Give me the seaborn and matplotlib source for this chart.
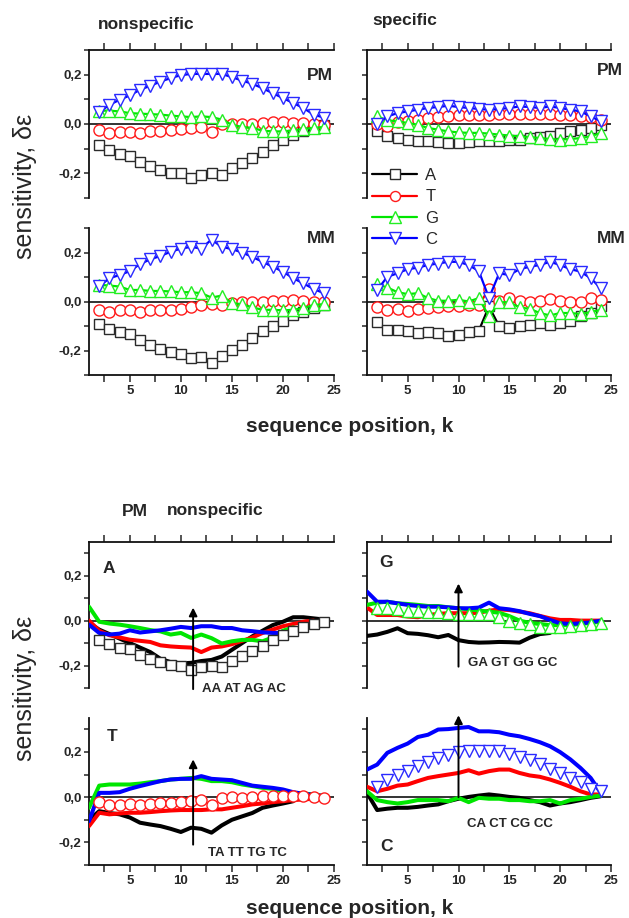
import matplotlib
matplotlib.use("Agg")
import matplotlib.pyplot as plt
import seaborn as sns
from matplotlib.lines import Line2D

sns.set_style("ticks")
plt.rcParams['font.family'] = ['Liberation Sans', 'DejaVu Sans']

# ---------------- data ----------------
bases = ['A', 'T', 'G', 'C']
k_top = list(range(2, 25))

# nonspecific, PM
ns_pm_A = [-0.086, -0.106, -0.122, -0.128, -0.155, -0.172, -0.186, -0.197, -0.200, -0.218, -0.205, -0.200,
           -0.205, -0.180, -0.158, -0.137, -0.115, -0.085, -0.065, -0.045, -0.030, -0.015, -0.005]
ns_pm_T = [-0.023, -0.036, -0.034, -0.032, -0.036, -0.030, -0.027, -0.026, -0.020, -0.016, -0.012, -0.034,
           -0.002, 0.001, -0.002, 0.002, 0.006, 0.007, 0.007, 0.006, 0.004, 0.001, -0.004]
ns_pm_G = [0.054, 0.054, 0.051, 0.044, 0.042, 0.040, 0.038, 0.034, 0.031, 0.028, 0.031, 0.028,
           0.018, -0.003, -0.012, -0.016, -0.027, -0.030, -0.030, -0.026, -0.020, -0.016, -0.012]
ns_pm_C = [0.047, 0.078, 0.098, 0.116, 0.139, 0.155, 0.172, 0.186, 0.198, 0.203, 0.203, 0.203,
           0.203, 0.190, 0.176, 0.163, 0.145, 0.125, 0.105, 0.085, 0.065, 0.038, 0.026]
# nonspecific, MM
ns_mm_A = [-0.092, -0.111, -0.126, -0.132, -0.158, -0.176, -0.192, -0.205, -0.216, -0.232, -0.227, -0.253,
           -0.223, -0.196, -0.176, -0.151, -0.122, -0.099, -0.078, -0.057, -0.041, -0.027, -0.014]
ns_mm_T = [-0.034, -0.043, -0.034, -0.036, -0.041, -0.034, -0.034, -0.034, -0.031, -0.024, -0.016, -0.011,
           -0.014, -0.007, 0.000, -0.003, 0.000, 0.003, 0.003, 0.007, 0.003, 0.000, -0.003]
ns_mm_G = [0.068, 0.065, 0.061, 0.047, 0.047, 0.043, 0.043, 0.041, 0.038, 0.038, 0.034, 0.016,
           0.024, -0.007, -0.011, -0.024, -0.034, -0.034, -0.036, -0.034, -0.027, -0.014, -0.011]
ns_mm_C = [0.062, 0.095, 0.108, 0.124, 0.153, 0.172, 0.186, 0.203, 0.216, 0.223, 0.216, 0.253,
           0.223, 0.214, 0.200, 0.182, 0.162, 0.142, 0.122, 0.095, 0.074, 0.051, 0.034]
# specific, PM
sp_pm_A = [-0.030, -0.050, -0.057, -0.063, -0.070, -0.070, -0.073, -0.077, -0.077, -0.074, -0.070, -0.070,
           -0.070, -0.066, -0.063, -0.057, -0.053, -0.047, -0.036, -0.030, -0.023, -0.016, -0.003]
sp_pm_T = [0.002, -0.010, 0.007, 0.011, 0.018, 0.024, 0.028, 0.034, 0.038, 0.038, 0.038, 0.038,
           0.040, 0.040, 0.040, 0.040, 0.040, 0.040, 0.038, 0.038, 0.034, 0.028, 0.018]
sp_pm_G = [0.031, 0.015, 0.011, 0.004, -0.003, -0.016, -0.023, -0.030, -0.034, -0.036, -0.036, -0.039,
           -0.043, -0.047, -0.050, -0.053, -0.057, -0.061, -0.063, -0.061, -0.057, -0.050, -0.036]
sp_pm_C = [0.000, 0.031, 0.044, 0.051, 0.058, 0.065, 0.069, 0.074, 0.069, 0.065, 0.061, 0.058,
           0.061, 0.065, 0.071, 0.069, 0.065, 0.071, 0.065, 0.058, 0.051, 0.031, 0.011]
# specific, MM
sp_mm_A = [-0.084, -0.115, -0.115, -0.122, -0.128, -0.126, -0.128, -0.142, -0.138, -0.124, -0.119, -0.020,
           -0.101, -0.108, -0.101, -0.095, -0.088, -0.097, -0.088, -0.078, -0.061, -0.047, -0.020]
sp_mm_T = [-0.024, -0.034, -0.030, -0.038, -0.030, -0.027, -0.024, -0.020, -0.020, -0.016, -0.014, 0.051,
           0.003, 0.016, 0.003, -0.003, 0.003, 0.011, 0.003, 0.000, 0.000, 0.014, 0.007]
sp_mm_G = [0.070, 0.057, 0.038, 0.030, 0.034, 0.014, 0.003, 0.003, 0.007, 0.000, 0.014, -0.061,
           -0.003, -0.003, -0.024, -0.030, -0.047, -0.057, -0.047, -0.047, -0.051, -0.043, -0.034]
sp_mm_C = [0.047, 0.101, 0.115, 0.132, 0.138, 0.149, 0.155, 0.162, 0.162, 0.149, 0.124, 0.014,
           0.115, 0.108, 0.132, 0.142, 0.149, 0.162, 0.149, 0.132, 0.122, 0.095, 0.054]

# nearest-neighbour contributions (PM nonspecific), k starts at 1
AA = [-0.010, -0.040, -0.060, -0.080, -0.100, -0.120, -0.140, -0.170, -0.185, -0.190, -0.188, -0.180,
      -0.175, -0.160, -0.130, -0.100, -0.070, -0.045, -0.020, -0.005, 0.015, 0.015, 0.010, 0.005]
AT = [0.000, -0.045, -0.065, -0.075, -0.085, -0.090, -0.095, -0.110, -0.115, -0.118, -0.120, -0.140,
      -0.120, -0.115, -0.105, -0.090, -0.075, -0.055, -0.040, -0.025, -0.015, -0.005, 0.000]
AG = [0.062, -0.005, -0.013, -0.018, -0.025, -0.033, -0.042, -0.048, -0.062, -0.055, -0.077, -0.062,
      -0.078, -0.102, -0.092, -0.086, -0.086, -0.092, -0.075, -0.045, -0.030]
AC = [-0.018, -0.055, -0.062, -0.058, -0.043, -0.053, -0.048, -0.043, -0.036, -0.028, -0.033, -0.025,
      -0.025, -0.033, -0.033, -0.043, -0.047, -0.052, -0.055, -0.055, -0.055]

GA = [-0.068, -0.062, -0.050, -0.034, -0.056, -0.059, -0.065, -0.074, -0.064, -0.087, -0.095, -0.098,
      -0.097, -0.095, -0.096, -0.098, -0.076, -0.060, -0.055]
GT = [0.059, 0.025, 0.025, 0.025, 0.018, 0.015, 0.025, 0.030, 0.033, 0.033, 0.033, 0.035,
      0.044, 0.050, 0.047, 0.040, 0.033, 0.021, 0.010, 0.003, 0.003, 0.000, 0.000, 0.000]
GG = [0.070, 0.080, 0.084, 0.077, 0.074, 0.070, 0.065, 0.065, 0.059, 0.055, 0.050, 0.045,
      0.040, 0.035, 0.020, 0.000, -0.010, -0.015, -0.020, -0.020, -0.020, -0.015, -0.010, -0.005]
GC = [0.129, 0.084, 0.084, 0.077, 0.070, 0.065, 0.062, 0.062, 0.059, 0.055, 0.055, 0.058,
      0.080, 0.055, 0.050, 0.042, 0.030, 0.020, 0.003, -0.012, -0.015, -0.012, -0.008, 0.000]

TA = [-0.100, -0.062, -0.070, -0.076, -0.090, -0.113, -0.121, -0.128, -0.140, -0.154, -0.135, -0.140,
      -0.157, -0.125, -0.100, -0.085, -0.070, -0.047, -0.037, -0.028, -0.018]
TT = [-0.128, -0.069, -0.076, -0.072, -0.069, -0.069, -0.066, -0.062, -0.059, -0.057, -0.057, -0.057,
      -0.054, -0.054, -0.047, -0.040, -0.032, -0.028, -0.022, -0.018, -0.013, -0.010, -0.007, -0.003]
TG = [-0.047, 0.051, 0.056, 0.056, 0.056, 0.060, 0.066, 0.071, 0.078, 0.081, 0.085, 0.081,
      0.071, 0.071, 0.066, 0.056, 0.049, 0.041, 0.037, 0.026, 0.019, 0.016, 0.012, 0.005]
TC = [-0.106, 0.019, 0.019, 0.022, 0.037, 0.049, 0.060, 0.071, 0.078, 0.081, 0.081, 0.093,
      0.081, 0.078, 0.075, 0.063, 0.051, 0.046, 0.041, 0.034, 0.022, 0.015, 0.010, 0.005]

CA = [0.019, -0.057, -0.051, -0.047, -0.047, -0.043, -0.037, -0.032, -0.018, -0.007, 0.001, 0.007,
      0.012, 0.007, 0.001, -0.003, -0.013, -0.022, -0.037, -0.028, -0.022, -0.013, -0.003, 0.004]
CT = [0.046, 0.026, 0.037, 0.051, 0.056, 0.071, 0.085, 0.093, 0.100, 0.107, 0.119, 0.104,
      0.115, 0.122, 0.122, 0.107, 0.096, 0.090, 0.078, 0.063, 0.046, 0.026, 0.012, 0.012]
CG = [0.026, -0.013, -0.022, -0.028, -0.022, -0.013, -0.013, -0.013, -0.018, -0.003, -0.022, -0.003,
      -0.007, -0.007, -0.013, -0.013, -0.018, -0.018, -0.013, -0.028, -0.013, -0.007, 0.001, 0.007]
CC = [0.122, 0.144, 0.196, 0.218, 0.237, 0.266, 0.276, 0.299, 0.301, 0.306, 0.310, 0.291,
      0.291, 0.287, 0.276, 0.269, 0.257, 0.243, 0.225, 0.199, 0.167, 0.129, 0.085, 0.019]

xtick_major = [5, 10, 15, 20, 25]
xtick_minor = [2.5, 7.5, 12.5, 17.5, 22.5]
xtick_labels = ['5', '10', '15', '20', '25']
ytick_major = [-0.2, 0.0, 0.2]
ytick_minor = [-0.3, -0.1, 0.1, 0.3]
ytick_labels = ['-0,2', '0,0', '0,2']

# ---------------- style ----------------
COL = {'A': '#000000', 'T': '#ff0000', 'G': '#00e600', 'C': '#0000ff'}
MEC = {'A': '#2a2a2a', 'T': '#ff1a1a', 'G': '#22ee22', 'C': '#2a2aff'}
MRK = {'A': 's', 'T': 'o', 'G': '^', 'C': 'v'}
MSZ = {'A': 7.6, 'T': 8.0, 'G': 9.2, 'C': 9.2}

W, H = 629, 918
fig = plt.figure(figsize=(W / 100, H / 100), dpi=100)


def px_axes(x0, y0, x1, y1):
    return fig.add_axes([x0 / W, 1 - y1 / H, (x1 - x0) / W, (y1 - y0) / H])


def style(ax, ylim, upper, ylabels):
    ax.set_xlim(1, 25)
    ax.set_ylim(*ylim)
    ax.set_xticks(xtick_major)
    ax.set_xticks(xtick_minor, minor=True)
    ax.set_yticks(ytick_major)
    ax.set_yticks(ytick_minor, minor=True)
    ax.spines['right'].set_visible(False)
    for s in ax.spines.values():
        s.set_linewidth(1.3)
        s.set_color('#111111')
    if upper:
        ax.spines['bottom'].set_visible(False)
        ax.tick_params(axis='x', which='both', bottom=False, top=True,
                       labelbottom=False, labeltop=False, direction='out', length=5, width=1.1)
    else:
        ax.spines['top'].set_visible(False)
        ax.tick_params(axis='x', which='both', bottom=True, top=False, labelbottom=True,
                       direction='out', length=5, width=1.1, pad=2.5, labelsize=9.5)
        ax.set_xticklabels(xtick_labels, fontweight='bold')
    ax.tick_params(axis='y', which='both', left=True, right=False, direction='out',
                   length=3.8, width=1.1, pad=1.5, labelsize=9.5)
    if ylabels:
        ax.set_yticklabels(ytick_labels, fontweight='bold')
    else:
        ax.set_yticklabels([])
    ax.axhline(0, color='#111111', lw=1.2, zorder=1)
    ax.set_xlabel('')
    ax.set_ylabel('')


def marker_series(ax, b, vals, with_line=True, lw=1.5):
    sns.lineplot(x=k_top, y=vals, ax=ax, color=COL[b], lw=lw if with_line else 0,
                 marker=MRK[b], markersize=MSZ[b], markerfacecolor='white',
                 markeredgecolor=MEC[b], markeredgewidth=1.0, estimator=None, sort=False,
                 zorder=4)


def nn_line(ax, b, vals):
    sns.lineplot(x=list(range(1, len(vals) + 1)), y=vals, ax=ax, color=COL[b], lw=2.9,
                 estimator=None, sort=False, zorder=3)


TOPLIM = (-0.3, 0.3)
BOTLIM = (-0.3, 0.35)

# ---------------- top block ----------------
ax_tl_pm = px_axes(89, 50, 334, 198)
ax_tl_mm = px_axes(89, 228, 334, 375)
ax_tr_pm = px_axes(367, 50, 611, 198)
ax_tr_mm = px_axes(367, 228, 611, 375)

top_sets = [
    (ax_tl_pm, [ns_pm_A, ns_pm_T, ns_pm_G, ns_pm_C], True, True),
    (ax_tl_mm, [ns_mm_A, ns_mm_T, ns_mm_G, ns_mm_C], False, True),
    (ax_tr_pm, [sp_pm_A, sp_pm_T, sp_pm_G, sp_pm_C], True, False),
    (ax_tr_mm, [sp_mm_A, sp_mm_T, sp_mm_G, sp_mm_C], False, False),
]
for ax, series, upper, ylab in top_sets:
    for b, vals in zip(bases, series):
        marker_series(ax, b, vals, with_line=True, lw=1.6)
    style(ax, TOPLIM, upper, ylab)

ax_tl_pm.text(22.3, 0.198, 'PM', fontsize=12.5, fontweight='bold', va='center', ha='left')
ax_tr_pm.text(23.6, 0.218, 'PM', fontsize=12.5, fontweight='bold', va='center', ha='left', clip_on=False)
ax_tl_mm.text(22.3, 0.259, 'MM', fontsize=12.5, fontweight='bold', va='center', ha='left', clip_on=False)
ax_tr_mm.text(23.6, 0.259, 'MM', fontsize=12.5, fontweight='bold', va='center', ha='left', clip_on=False)

fig.text(98 / W, 1 - 24 / H, 'nonspecific', fontsize=12.5, fontweight='bold', va='center', ha='left')
fig.text(372 / W, 1 - 21 / H, 'specific', fontsize=12.5, fontweight='bold', va='center', ha='left')

handles = [Line2D([], [], color=COL[b], lw=1.6, marker=MRK[b], markersize=MSZ[b] * 0.9,
                  markerfacecolor='white', markeredgecolor=MEC[b], markeredgewidth=1.0) for b in bases]
fig.legend(handles, bases, loc='upper left', bbox_to_anchor=(372 / W, 1 - 168 / H),
           frameon=False, fontsize=12, handlelength=2.7, handletextpad=0.5,
           labelspacing=0.38, borderpad=0, borderaxespad=0)

# ---------------- bottom block ----------------
ax_a = px_axes(89, 542, 334, 688)
ax_t = px_axes(89, 718, 334, 865)
ax_g = px_axes(367, 542, 611, 688)
ax_c = px_axes(367, 718, 611, 865)

bottom_sets = [
    (ax_a, [AA, AT, AG, AC], 'A', ns_pm_A, True, True),
    (ax_t, [TA, TT, TG, TC], 'T', ns_pm_T, False, True),
    (ax_g, [GA, GT, GG, GC], 'G', ns_pm_G, True, False),
    (ax_c, [CA, CT, CG, CC], 'C', ns_pm_C, False, False),
]
for ax, lines, b0, mvals, upper, ylab in bottom_sets:
    for b, vals in zip(bases, lines):
        nn_line(ax, b, vals)
    marker_series(ax, b0, mvals, with_line=False)
    style(ax, BOTLIM, upper, ylab)

ax_a.text(2.37, 0.231, 'A', fontsize=12.5, fontweight='bold', va='center', ha='left')
ax_g.text(2.18, 0.258, 'G', fontsize=12.5, fontweight='bold', va='center', ha='left')
ax_t.text(2.76, 0.268, 'T', fontsize=12.5, fontweight='bold', va='center', ha='left')
ax_c.text(2.27, -0.22, 'C', fontsize=12.5, fontweight='bold', va='center', ha='left')

arrow_kw = dict(arrowstyle='-|>', color='black', lw=1.4, mutation_scale=12, shrinkA=0, shrinkB=0)
for ax, xk, y0, y1, tx, ty, txt in [
    (ax_a, 11.2, -0.305, 0.058, 12.1, -0.305, 'AA AT AG AC'),
    (ax_g, 10.0, -0.205, 0.165, 10.9, -0.19, 'GA GT GG GC'),
    (ax_t, 11.2, -0.21, 0.167, 12.7, -0.246, 'TA TT TG TC'),
    (ax_c, 10.0, 0.0, 0.362, 10.8, -0.119, 'CA CT CG CC'),
]:
    ax.annotate('', xy=(xk, y1), xytext=(xk, y0), arrowprops=arrow_kw, annotation_clip=False, zorder=6)
    ax.text(tx, ty, txt, fontsize=9.5, fontweight='bold', va='center', ha='left', clip_on=False)

fig.text(122 / W, 1 - 511 / H, 'PM', fontsize=12.5, fontweight='bold', va='center', ha='left')
fig.text(167 / W, 1 - 511 / H, 'nonspecific', fontsize=12.5, fontweight='bold', va='center', ha='left')

# axis titles
for yc in (186, 688):
    fig.text(25 / W, 1 - yc / H, 'sensitivity, δε', fontsize=18, rotation=90, va='center', ha='center')
for yc in (426, 909):
    fig.text(350 / W, 1 - yc / H, 'sequence position, k', fontsize=15, fontweight='bold',
             va='center', ha='center')

fig.savefig('out.png', dpi=100)
